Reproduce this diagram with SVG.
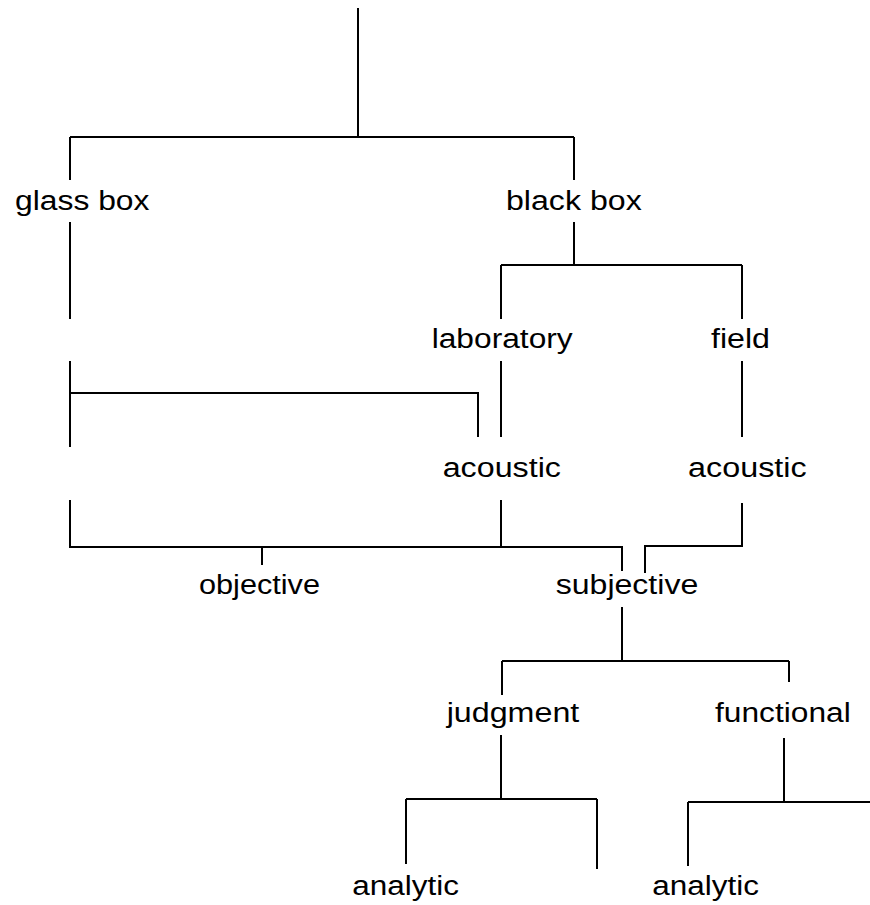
<svg xmlns="http://www.w3.org/2000/svg" width="870" height="905" viewBox="0 0 870 905">
<style>
.c{fill:none;stroke:#000;stroke-width:2}
.t{font-family:"Liberation Sans",Arial,sans-serif;font-size:27px;fill:#000}
</style>
<rect width="870" height="905" fill="#fff"/>
<g id="connectors" class="c">
<path d="M358,8V137M70,137H574M70,137V180M574,137V180"/>
<path d="M574,222V265M501,265H742M501,265V319M742,265V319"/>
<path d="M501,361V437M742,361V437"/>
<path d="M70,222V319M70,361V447M70,393H478V437"/>
<path d="M70,500V547H622V571M501,500V547M262,547V565"/>
<path d="M742,503V546H645V573"/>
<path d="M622,607V661M502,661H789M502,661V695M789,661V682"/>
<path d="M501,735V799M406,799H597M406,799V864M597,799V869"/>
<path d="M784,738V802M688,802H870M688,802V866"/>
</g>
<g id="glass-box"><text class="t" x="15" y="210" textLength="134.5" lengthAdjust="spacingAndGlyphs">glass box</text></g>
<g id="black-box"><text class="t" x="506" y="210" textLength="135.7" lengthAdjust="spacingAndGlyphs">black box</text></g>
<g id="laboratory"><text class="t" x="431.7" y="348" textLength="141" lengthAdjust="spacingAndGlyphs">laboratory</text></g>
<g id="field"><text class="t" x="711" y="348" textLength="59" lengthAdjust="spacingAndGlyphs">field</text></g>
<g id="acoustic-lab"><text class="t" x="442.7" y="477" textLength="118.3" lengthAdjust="spacingAndGlyphs">acoustic</text></g>
<g id="acoustic-field"><text class="t" x="688" y="477" textLength="118.7" lengthAdjust="spacingAndGlyphs">acoustic</text></g>
<g id="objective"><text class="t" x="199" y="594" textLength="121" lengthAdjust="spacingAndGlyphs">objective</text></g>
<g id="subjective"><text class="t" x="555.7" y="594" textLength="142.6" lengthAdjust="spacingAndGlyphs">subjective</text></g>
<g id="judgment"><text class="t" x="446.7" y="722" textLength="132.6" lengthAdjust="spacingAndGlyphs">judgment</text></g>
<g id="functional"><text class="t" x="715" y="722" textLength="135.7" lengthAdjust="spacingAndGlyphs">functional</text></g>
<g id="analytic-judgment"><text class="t" x="352.3" y="895" textLength="106.7" lengthAdjust="spacingAndGlyphs">analytic</text></g>
<g id="analytic-functional"><text class="t" x="652.3" y="895" textLength="106.7" lengthAdjust="spacingAndGlyphs">analytic</text></g>
</svg>
